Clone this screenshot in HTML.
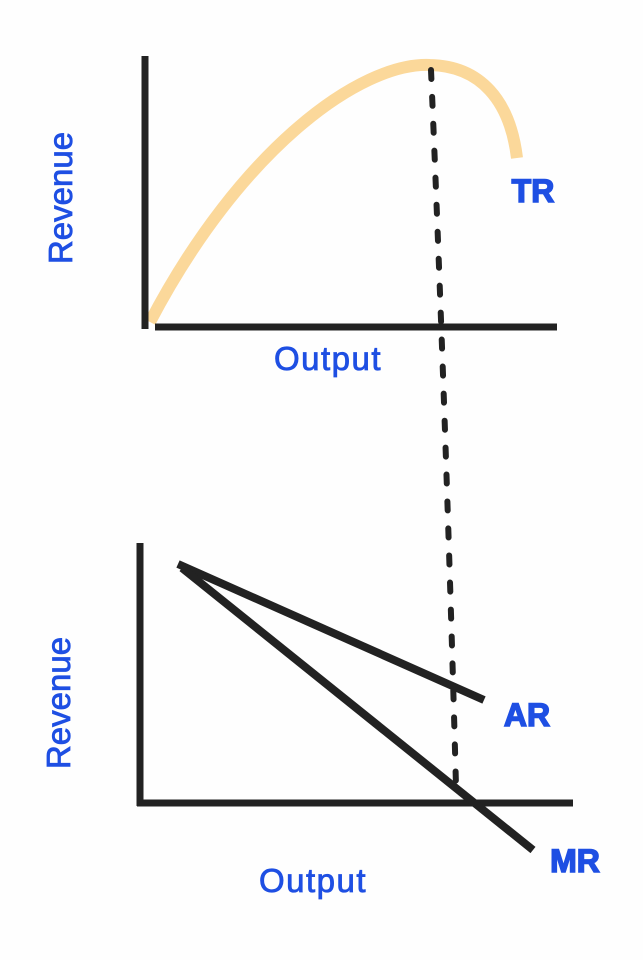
<!DOCTYPE html>
<html><head><meta charset="utf-8"><style>
html,body{margin:0;padding:0;background:#fff;}
svg{display:block}
</style></head><body>
<svg width="643" height="960" viewBox="0 0 643 960" xmlns="http://www.w3.org/2000/svg">
<rect width="643" height="960" fill="#fefefe"/>
<path d="M150,322 C240,150 360,62 430,65 C480,66 510,100 517,158" fill="none" stroke="#fbd89a" stroke-width="12" stroke-linecap="butt"/>
<line x1="145" y1="56" x2="145" y2="329" stroke="#222" stroke-width="7"/>
<line x1="155" y1="327" x2="557" y2="327" stroke="#222" stroke-width="7"/>
<path d="M431,70 Q446,420 456,786" fill="none" stroke="#222" stroke-width="6" stroke-linecap="round" stroke-dasharray="9 18"/>
<line x1="140" y1="543" x2="140" y2="806" stroke="#222" stroke-width="7"/>
<line x1="137" y1="803" x2="573" y2="803" stroke="#222" stroke-width="7"/>
<line x1="178" y1="564" x2="484" y2="700" stroke="#222" stroke-width="8"/>
<line x1="182" y1="568" x2="533" y2="850" stroke="#222" stroke-width="8"/>
<g font-family="Liberation Sans, DejaVu Sans, sans-serif" fill="#1e4fe3" stroke="#1e4fe3" stroke-width="0.8">
<text x="0" y="0" font-size="33" text-anchor="middle" transform="translate(72,198) rotate(-90)">Revenue</text>
<text x="0" y="0" font-size="33" text-anchor="middle" transform="translate(70,703) rotate(-90)">Revenue</text>
<text x="328" y="370" font-size="33" letter-spacing="1.5" text-anchor="middle">Output</text>
<text x="313" y="892" font-size="33" letter-spacing="1.5" text-anchor="middle">Output</text>
</g>
<g font-family="Liberation Sans, DejaVu Sans, sans-serif" fill="#1e4fe3" font-weight="bold" stroke="#1e4fe3" stroke-width="1.5">
<text x="533" y="202" font-size="32" text-anchor="middle">TR</text>
<text x="527" y="726" font-size="32" text-anchor="middle">AR</text>
<text x="575" y="872" font-size="32" text-anchor="middle">MR</text>
</g>
</svg>
</body></html>
